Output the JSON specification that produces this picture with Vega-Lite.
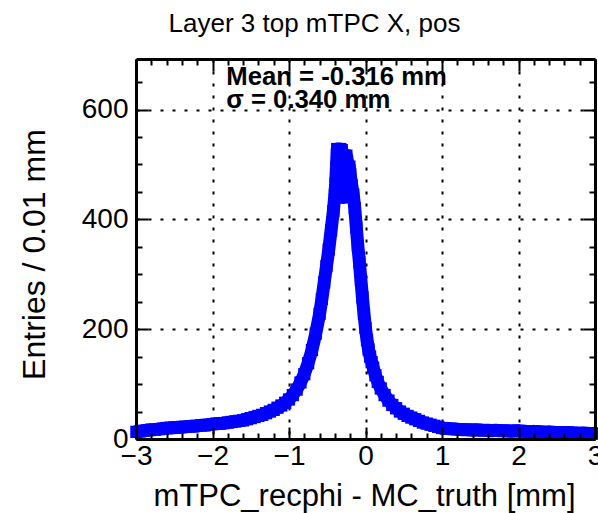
{
  "$schema": "https://vega.github.io/schema/vega-lite/v6.json",
  "width": 459,
  "height": 380,
  "autosize": {"type": "none"},
  "padding": {"left": 136, "top": 59, "right": 3, "bottom": 74},
  "background": "white",
  "config": {"font": "Liberation Sans", "view": {"stroke": null}},
  "title": {"text": "Layer 3 top mTPC X, pos", "fontSize": 26, "fontWeight": "normal", "font": "Liberation Sans", "color": "black", "anchor": "middle", "frame": "group", "dx": -51, "offset": 0, "baseline": "alphabetic"},
  "data": {"values": [
    {"x": -2.995, "entries": 13}, {"x": -2.95, "entries": 14}, {"x": -2.9, "entries": 15}, {"x": -2.85, "entries": 16},
    {"x": -2.8, "entries": 17}, {"x": -2.75, "entries": 17}, {"x": -2.7, "entries": 18}, {"x": -2.65, "entries": 19},
    {"x": -2.6, "entries": 20}, {"x": -2.55, "entries": 20}, {"x": -2.5, "entries": 21}, {"x": -2.45, "entries": 21},
    {"x": -2.4, "entries": 22}, {"x": -2.35, "entries": 22}, {"x": -2.3, "entries": 23}, {"x": -2.25, "entries": 23},
    {"x": -2.2, "entries": 24}, {"x": -2.15, "entries": 25}, {"x": -2.1, "entries": 25}, {"x": -2.05, "entries": 26},
    {"x": -2.0, "entries": 27}, {"x": -1.95, "entries": 28}, {"x": -1.9, "entries": 28}, {"x": -1.85, "entries": 29},
    {"x": -1.8, "entries": 30}, {"x": -1.75, "entries": 31}, {"x": -1.7, "entries": 32}, {"x": -1.65, "entries": 33},
    {"x": -1.6, "entries": 34}, {"x": -1.55, "entries": 36}, {"x": -1.5, "entries": 38}, {"x": -1.45, "entries": 40},
    {"x": -1.4, "entries": 42}, {"x": -1.35, "entries": 44}, {"x": -1.3, "entries": 47}, {"x": -1.25, "entries": 50},
    {"x": -1.2, "entries": 53}, {"x": -1.15, "entries": 57}, {"x": -1.1, "entries": 61}, {"x": -1.05, "entries": 66},
    {"x": -1.0, "entries": 72}, {"x": -0.95, "entries": 80}, {"x": -0.9, "entries": 90}, {"x": -0.85, "entries": 103},
    {"x": -0.8, "entries": 118}, {"x": -0.75, "entries": 138}, {"x": -0.7, "entries": 162}, {"x": -0.65, "entries": 192},
    {"x": -0.6, "entries": 228}, {"x": -0.57, "entries": 255}, {"x": -0.54, "entries": 285}, {"x": -0.51, "entries": 315},
    {"x": -0.48, "entries": 345}, {"x": -0.45, "entries": 380}, {"x": -0.42, "entries": 415}, {"x": -0.4, "entries": 445},
    {"x": -0.39, "entries": 465}, {"x": -0.38, "entries": 495}, {"x": -0.37, "entries": 528}, {"x": -0.36, "entries": 522},
    {"x": -0.35, "entries": 528}, {"x": -0.34, "entries": 524}, {"x": -0.33, "entries": 528}, {"x": -0.32, "entries": 518},
    {"x": -0.31, "entries": 526}, {"x": -0.3, "entries": 480}, {"x": -0.29, "entries": 440}, {"x": -0.28, "entries": 450},
    {"x": -0.27, "entries": 516}, {"x": -0.26, "entries": 512}, {"x": -0.25, "entries": 516}, {"x": -0.24, "entries": 505},
    {"x": -0.23, "entries": 498}, {"x": -0.22, "entries": 494}, {"x": -0.21, "entries": 496}, {"x": -0.2, "entries": 482},
    {"x": -0.18, "entries": 462}, {"x": -0.16, "entries": 445}, {"x": -0.14, "entries": 420}, {"x": -0.12, "entries": 385},
    {"x": -0.1, "entries": 352}, {"x": -0.08, "entries": 322}, {"x": -0.06, "entries": 290}, {"x": -0.04, "entries": 258},
    {"x": -0.02, "entries": 228}, {"x": 0.0, "entries": 202}, {"x": 0.02, "entries": 180}, {"x": 0.04, "entries": 163},
    {"x": 0.06, "entries": 150}, {"x": 0.08, "entries": 140}, {"x": 0.1, "entries": 130}, {"x": 0.13, "entries": 116},
    {"x": 0.16, "entries": 104}, {"x": 0.2, "entries": 92}, {"x": 0.25, "entries": 80}, {"x": 0.3, "entries": 70},
    {"x": 0.35, "entries": 62}, {"x": 0.4, "entries": 56}, {"x": 0.45, "entries": 50}, {"x": 0.5, "entries": 46},
    {"x": 0.55, "entries": 42}, {"x": 0.6, "entries": 39}, {"x": 0.65, "entries": 36}, {"x": 0.7, "entries": 33},
    {"x": 0.75, "entries": 30}, {"x": 0.8, "entries": 28}, {"x": 0.85, "entries": 26}, {"x": 0.9, "entries": 24},
    {"x": 0.95, "entries": 22}, {"x": 1.0, "entries": 20}, {"x": 1.05, "entries": 19}, {"x": 1.1, "entries": 19},
    {"x": 1.15, "entries": 18}, {"x": 1.2, "entries": 18}, {"x": 1.25, "entries": 17}, {"x": 1.3, "entries": 17},
    {"x": 1.35, "entries": 17}, {"x": 1.4, "entries": 16}, {"x": 1.45, "entries": 17}, {"x": 1.5, "entries": 16},
    {"x": 1.55, "entries": 16}, {"x": 1.6, "entries": 16}, {"x": 1.65, "entries": 15}, {"x": 1.7, "entries": 16},
    {"x": 1.75, "entries": 15}, {"x": 1.8, "entries": 15}, {"x": 1.85, "entries": 15}, {"x": 1.9, "entries": 14},
    {"x": 1.95, "entries": 15}, {"x": 2.0, "entries": 15}, {"x": 2.05, "entries": 14}, {"x": 2.1, "entries": 14},
    {"x": 2.15, "entries": 13}, {"x": 2.2, "entries": 14}, {"x": 2.25, "entries": 13}, {"x": 2.3, "entries": 13},
    {"x": 2.35, "entries": 12}, {"x": 2.4, "entries": 13}, {"x": 2.45, "entries": 12}, {"x": 2.5, "entries": 12},
    {"x": 2.55, "entries": 12}, {"x": 2.6, "entries": 11}, {"x": 2.65, "entries": 12}, {"x": 2.7, "entries": 11},
    {"x": 2.75, "entries": 11}, {"x": 2.8, "entries": 10}, {"x": 2.85, "entries": 11}, {"x": 2.9, "entries": 10},
    {"x": 2.95, "entries": 10}, {"x": 2.995, "entries": 10}
  ]},
  "layer": [
    {
      "mark": {"type": "line", "color": "#0000ff", "strokeWidth": 13, "strokeJoin": "round", "strokeCap": "butt"},
      "encoding": {
        "x": {"field": "x", "type": "quantitative", "scale": {"domain": [-3, 3], "nice": false, "zero": false},
          "axis": {"orient": "bottom", "values": [-3, -2, -1, 0, 1, 2, 3], "format": "d", "ticks": false, "domain": false,
            "labelFontSize": 28, "labelColor": "black", "labelPadding": 3, "labelFlush": false, "labelOverlap": false, "labelBound": false,
            "grid": true, "gridColor": "black", "gridWidth": 2, "gridDash": [3, 9], "gridOpacity": 1,
            "title": "mTPC_recphi - MC_truth [mm]", "titleFontSize": 31, "titleFontWeight": "normal", "titleColor": "black",
            "titleBaseline": "alphabetic", "titleY": 66, "titleX": 228, "zindex": 0}},
        "y": {"field": "entries", "type": "quantitative", "scale": {"domain": [0, 692], "nice": false, "zero": false},
          "axis": {"orient": "left", "values": [0, 200, 400, 600], "format": "d", "ticks": false, "domain": false,
            "labelFontSize": 28, "labelColor": "black", "labelPadding": 8, "labelOverlap": false, "labelBound": false,
            "grid": true, "gridColor": "black", "gridWidth": 2, "gridDash": [3, 9], "gridOpacity": 1,
            "title": "Entries / 0.01 mm", "titleFontSize": 32, "titleFontWeight": "normal", "titleColor": "black",
            "titleAngle": -90, "titleX": -92, "titleY": 195, "titleAlign": "center", "titleBaseline": "alphabetic", "zindex": 0}}
      }
    },
    {
      "mark": {"type": "point", "shape": "square", "size": 150, "filled": true, "color": "#0000ff", "opacity": 1, "strokeWidth": 0},
      "encoding": {
        "x": {"field": "x", "type": "quantitative", "scale": {"domain": [-3, 3], "nice": false, "zero": false},
          "axis": {"orient": "bottom", "values": [-3, -2, -1, 0, 1, 2, 3], "labels": false, "ticks": true, "tickSize": -12, "tickWidth": 2, "tickColor": "black",
            "domain": true, "domainColor": "black", "domainWidth": 3, "grid": false, "title": null, "zindex": 1}},
        "y": {"field": "entries", "type": "quantitative", "scale": {"domain": [0, 692], "nice": false, "zero": false},
          "axis": {"orient": "left", "values": [0, 200, 400, 600], "labels": false, "ticks": true, "tickSize": -12, "tickWidth": 2, "tickColor": "black",
            "domain": true, "domainColor": "black", "domainWidth": 3, "grid": false, "title": null, "zindex": 1}}
      }
    },
    {
      "mark": {"type": "point", "opacity": 0},
      "encoding": {
        "x": {"field": "x", "type": "quantitative", "scale": {"domain": [-3, 3], "nice": false, "zero": false},
          "axis": {"orient": "bottom", "values": [-2.8, -2.6, -2.4, -2.2, -1.8, -1.6, -1.4, -1.2, -0.8, -0.6, -0.4, -0.2, 0.2, 0.4, 0.6, 0.8, 1.2, 1.4, 1.6, 1.8, 2.2, 2.4, 2.6, 2.8],
            "labels": false, "ticks": true, "tickSize": -6, "tickWidth": 2, "tickColor": "black", "domain": false, "grid": false, "title": null, "zindex": 1}},
        "y": {"field": "entries", "type": "quantitative", "scale": {"domain": [0, 692], "nice": false, "zero": false},
          "axis": {"orient": "left", "values": [50, 100, 150, 250, 300, 350, 450, 500, 550, 650],
            "labels": false, "ticks": true, "tickSize": -6, "tickWidth": 2, "tickColor": "black", "domain": false, "grid": false, "title": null, "zindex": 1}}
      }
    },
    {
      "mark": {"type": "point", "opacity": 0},
      "encoding": {
        "x": {"field": "x", "type": "quantitative", "scale": {"domain": [-3, 3], "nice": false, "zero": false},
          "axis": {"orient": "top", "values": [-3, -2, -1, 0, 1, 2, 3], "labels": false, "ticks": true, "tickSize": -12, "tickWidth": 2, "tickColor": "black",
            "domain": true, "domainColor": "black", "domainWidth": 3, "grid": false, "title": null, "zindex": 1}},
        "y": {"field": "entries", "type": "quantitative", "scale": {"domain": [0, 692], "nice": false, "zero": false},
          "axis": {"orient": "right", "values": [0, 200, 400, 600], "labels": false, "ticks": true, "tickSize": -12, "tickWidth": 2, "tickColor": "black",
            "domain": true, "domainColor": "black", "domainWidth": 3, "grid": false, "title": null, "zindex": 1}}
      }
    },
    {
      "mark": {"type": "point", "opacity": 0},
      "encoding": {
        "x": {"field": "x", "type": "quantitative", "scale": {"domain": [-3, 3], "nice": false, "zero": false},
          "axis": {"orient": "top", "values": [-2.8, -2.6, -2.4, -2.2, -1.8, -1.6, -1.4, -1.2, -0.8, -0.6, -0.4, -0.2, 0.2, 0.4, 0.6, 0.8, 1.2, 1.4, 1.6, 1.8, 2.2, 2.4, 2.6, 2.8],
            "labels": false, "ticks": true, "tickSize": -6, "tickWidth": 2, "tickColor": "black", "domain": false, "grid": false, "title": null, "zindex": 1}},
        "y": {"field": "entries", "type": "quantitative", "scale": {"domain": [0, 692], "nice": false, "zero": false},
          "axis": {"orient": "right", "values": [50, 100, 150, 250, 300, 350, 450, 500, 550, 650],
            "labels": false, "ticks": true, "tickSize": -6, "tickWidth": 2, "tickColor": "black", "domain": false, "grid": false, "title": null, "zindex": 1}}
      }
    },
    {
      "data": {"values": [{}]},
      "mark": {"type": "text", "text": ["Mean = -0.316 mm", "σ = 0.340 mm"], "font": "Liberation Sans", "fontSize": 25.7, "fontWeight": "bold",
        "align": "left", "baseline": "alphabetic", "lineHeight": 23.5, "color": "black"},
      "encoding": {
        "x": {"datum": -1.82, "type": "quantitative", "scale": {"domain": [-3, 3], "nice": false, "zero": false}, "axis": null},
        "y": {"datum": 645, "type": "quantitative", "scale": {"domain": [0, 692], "nice": false, "zero": false}, "axis": null}
      }
    }
  ],
  "resolve": {"axis": {"x": "independent", "y": "independent"}}
}
